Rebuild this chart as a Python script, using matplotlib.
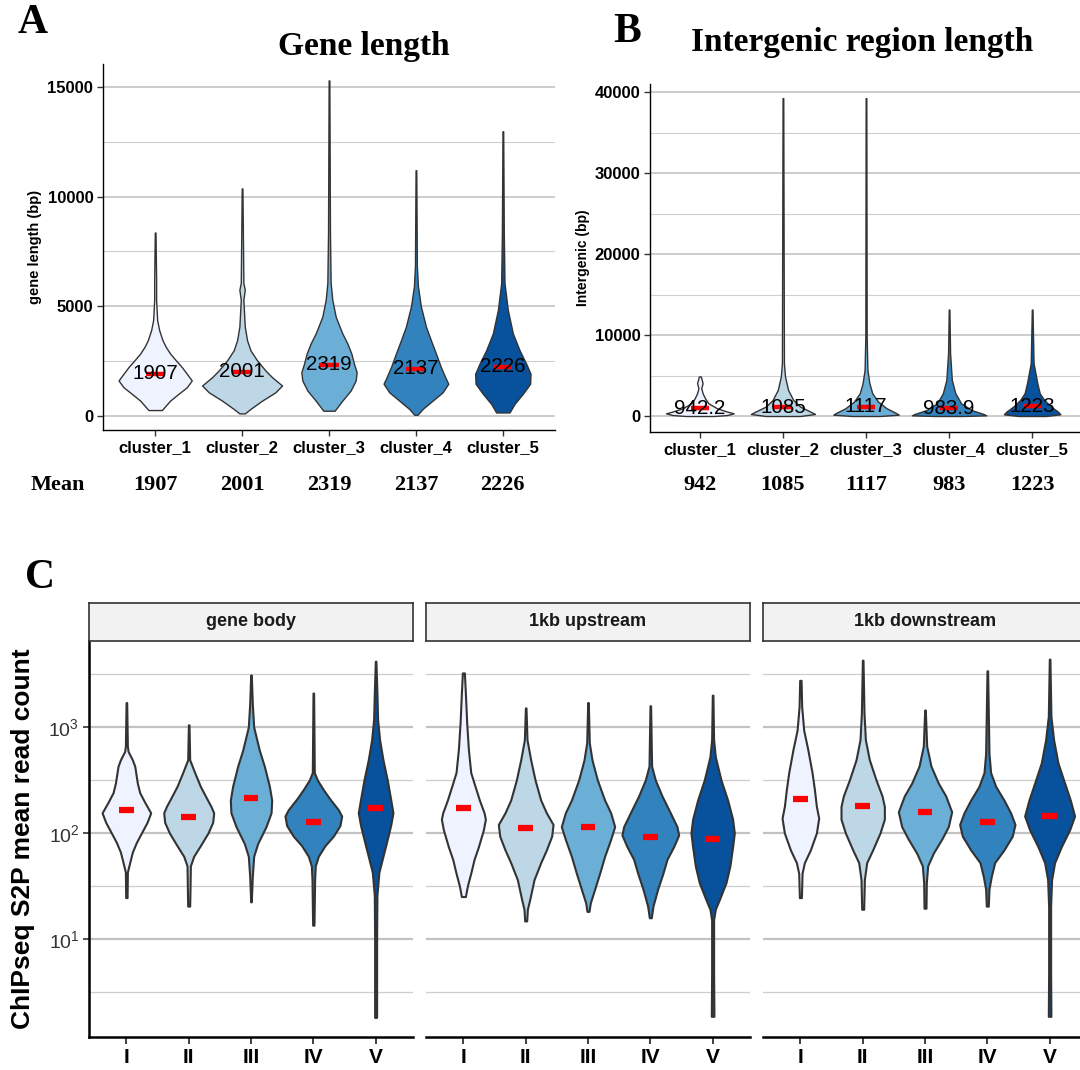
import numpy as np
import matplotlib
matplotlib.use('Agg')
import matplotlib.pyplot as plt
from matplotlib.ticker import FixedLocator, NullFormatter

plt.rcParams['font.family'] = ['Liberation Sans', 'DejaVu Sans']
plt.rcParams['mathtext.fontset'] = 'custom'
plt.rcParams['mathtext.rm'] = 'Liberation Sans'
plt.rcParams['mathtext.it'] = 'Liberation Sans:italic'
plt.rcParams['mathtext.bf'] = 'Liberation Sans:bold'

# ---------------- data ----------------
clusters = ['cluster_1', 'cluster_2', 'cluster_3', 'cluster_4', 'cluster_5']
colors = ['#EFF3FF', '#BDD7E7', '#6BAED6', '#3182BD', '#08519C']

# Panel A: gene length violins (value levels in bp, half-width profile)
geneA_levels = [
    [260, 690, 1000, 1300, 1610, 1920, 2220, 2530, 2840, 3140, 3450, 3910, 4370, 5290, 6210, 8360],
    [107, 310, 690, 1070, 1380, 1760, 2070, 2530, 2990, 3450, 4070, 5290, 5750, 6060, 10370],
    [230, 690, 1150, 1610, 1990, 2380, 2840, 3300, 3760, 4520, 5290, 6060, 8360, 15300],
    [46, 310, 690, 1070, 1460, 1760, 2220, 2840, 3450, 4070, 4990, 5910, 6830, 11200],
    [150, 540, 1000, 1460, 1920, 2380, 2990, 3760, 4830, 6060, 8310, 12980],
]
geneA_density = [
    [0.077, 0.172, 0.268, 0.364, 0.421, 0.364, 0.307, 0.238, 0.172, 0.123, 0.084, 0.046, 0.023, 0.011, 0.011, 0.004],
    [0.031, 0.096, 0.230, 0.383, 0.460, 0.345, 0.268, 0.172, 0.096, 0.057, 0.031, 0.015, 0.031, 0.015, 0.004],
    [0.065, 0.153, 0.249, 0.307, 0.318, 0.287, 0.257, 0.211, 0.153, 0.077, 0.038, 0.019, 0.011, 0.004],
    [0.019, 0.077, 0.192, 0.307, 0.372, 0.337, 0.287, 0.230, 0.172, 0.115, 0.057, 0.023, 0.011, 0.004],
    [0.077, 0.134, 0.230, 0.314, 0.318, 0.268, 0.192, 0.115, 0.057, 0.019, 0.011, 0.004],
]
geneA_means = [1907, 2001, 2319, 2137, 2226]
geneA_row = ['1907', '2001', '2319', '2137', '2226']

# Panel B: intergenic region length
interB_levels = [
    [0, 124, 330, 537, 950, 1570, 2190, 2810, 3430, 4050, 4880],
    [0, 248, 537, 1160, 1980, 3220, 4880, 6530, 39250],
    [0, 165, 413, 950, 1780, 2810, 4050, 5700, 9830, 39250],
    [0, 83, 248, 740, 1570, 2810, 4460, 7770, 13140],
    [0, 207, 537, 1160, 1980, 2810, 4050, 6530, 13140],
]
interB_density = [
    [0.166, 0.332, 0.407, 0.332, 0.207, 0.104, 0.062, 0.033, 0.017, 0.033, 0.012],
    [0.207, 0.386, 0.332, 0.207, 0.124, 0.062, 0.025, 0.012, 0.004],
    [0.166, 0.394, 0.353, 0.249, 0.145, 0.075, 0.041, 0.017, 0.008, 0.004],
    [0.166, 0.448, 0.415, 0.270, 0.145, 0.075, 0.033, 0.012, 0.004],
    [0.166, 0.340, 0.311, 0.228, 0.145, 0.091, 0.062, 0.017, 0.004],
]
interB_means = [942.2, 1085, 1117, 983.9, 1223]
interB_row = ['942', '1085', '1117', '983', '1223']

# Panel C: ChIPseq S2P mean read count (log10 levels)
groups = ['I', 'II', 'III', 'IV', 'V']
facets = ['gene body', '1kb upstream', '1kb downstream']

body_log = [
    [1.39, 1.63, 1.72, 1.82, 1.91, 2.00, 2.10, 2.19, 2.29, 2.38, 2.47, 2.57, 2.63, 2.69, 2.77, 2.82, 3.23],
    [1.31, 1.47, 1.69, 1.78, 1.88, 2.00, 2.10, 2.19, 2.25, 2.32, 2.44, 2.57, 2.65, 2.69, 3.02],
    [1.35, 1.59, 1.78, 1.90, 2.06, 2.19, 2.31, 2.44, 2.63, 2.78, 2.91, 3.00, 3.22, 3.49],
    [1.13, 1.56, 1.69, 1.78, 1.88, 1.97, 2.07, 2.16, 2.22, 2.32, 2.41, 2.50, 2.57, 3.32],
    [0.26, 1.00, 1.41, 1.63, 1.78, 1.94, 2.07, 2.19, 2.32, 2.50, 2.69, 2.88, 3.07, 3.32, 3.62],
]
body_density = [
    [0.011, 0.016, 0.053, 0.096, 0.160, 0.241, 0.332, 0.390, 0.294, 0.214, 0.176, 0.150, 0.134, 0.096, 0.027, 0.016, 0.005],
    [0.016, 0.021, 0.027, 0.080, 0.187, 0.310, 0.385, 0.401, 0.358, 0.294, 0.187, 0.096, 0.043, 0.016, 0.005],
    [0.005, 0.021, 0.043, 0.107, 0.241, 0.322, 0.332, 0.295, 0.214, 0.134, 0.080, 0.043, 0.021, 0.005],
    [0.011, 0.021, 0.032, 0.080, 0.187, 0.321, 0.428, 0.455, 0.401, 0.267, 0.160, 0.064, 0.016, 0.005],
    [0.016, 0.016, 0.021, 0.053, 0.118, 0.187, 0.241, 0.278, 0.241, 0.187, 0.118, 0.064, 0.032, 0.021, 0.005],
]
body_means = [166, 141, 215, 126, 173]

up_log = [
    [1.40, 1.50, 1.62, 1.75, 1.87, 2.03, 2.13, 2.19, 2.31, 2.44, 2.57, 2.79, 3.04, 3.32, 3.51],
    [1.17, 1.28, 1.37, 1.56, 1.72, 1.84, 1.97, 2.08, 2.19, 2.31, 2.50, 2.69, 2.88, 3.18],
    [1.26, 1.34, 1.47, 1.62, 1.78, 1.94, 2.06, 2.19, 2.31, 2.50, 2.69, 2.85, 3.23],
    [1.20, 1.31, 1.47, 1.62, 1.75, 1.87, 1.98, 2.06, 2.19, 2.35, 2.50, 2.63, 3.20],
    [0.27, 0.68, 1.18, 1.28, 1.37, 1.53, 1.69, 1.87, 2.00, 2.13, 2.31, 2.50, 2.72, 2.88, 3.30],
]
up_density = [
    [0.032, 0.064, 0.118, 0.171, 0.241, 0.321, 0.353, 0.332, 0.257, 0.187, 0.118, 0.080, 0.053, 0.032, 0.016],
    [0.016, 0.027, 0.064, 0.134, 0.241, 0.332, 0.417, 0.439, 0.332, 0.241, 0.150, 0.080, 0.021, 0.005],
    [0.016, 0.037, 0.107, 0.187, 0.267, 0.364, 0.428, 0.364, 0.267, 0.150, 0.064, 0.021, 0.005],
    [0.016, 0.043, 0.118, 0.203, 0.267, 0.374, 0.455, 0.428, 0.321, 0.187, 0.080, 0.021, 0.005],
    [0.021, 0.016, 0.016, 0.043, 0.107, 0.214, 0.278, 0.321, 0.348, 0.321, 0.241, 0.134, 0.043, 0.016, 0.005],
]
up_means = [173, 112, 113, 91, 88]

down_log = [
    [1.39, 1.62, 1.72, 1.84, 2.00, 2.14, 2.25, 2.41, 2.57, 2.79, 2.97, 3.19, 3.44],
    [1.28, 1.56, 1.72, 1.84, 2.00, 2.13, 2.25, 2.35, 2.50, 2.69, 2.88, 3.13, 3.63],
    [1.29, 1.53, 1.69, 1.81, 1.94, 2.06, 2.20, 2.35, 2.47, 2.63, 2.82, 3.16],
    [1.31, 1.47, 1.59, 1.72, 1.84, 1.97, 2.08, 2.19, 2.31, 2.44, 2.57, 2.75, 3.53],
    [0.27, 0.68, 1.31, 1.56, 1.72, 1.87, 2.03, 2.16, 2.31, 2.47, 2.66, 2.88, 3.10, 3.64],
]
down_density = [
    [0.016, 0.027, 0.064, 0.160, 0.257, 0.294, 0.257, 0.225, 0.187, 0.118, 0.053, 0.021, 0.011],
    [0.016, 0.027, 0.064, 0.160, 0.278, 0.348, 0.348, 0.310, 0.214, 0.107, 0.043, 0.021, 0.005],
    [0.016, 0.021, 0.043, 0.134, 0.267, 0.374, 0.428, 0.332, 0.214, 0.096, 0.027, 0.005],
    [0.016, 0.027, 0.064, 0.118, 0.267, 0.401, 0.444, 0.374, 0.267, 0.134, 0.053, 0.027, 0.005],
    [0.021, 0.016, 0.016, 0.032, 0.080, 0.187, 0.321, 0.401, 0.332, 0.241, 0.134, 0.064, 0.021, 0.005],
]
down_means = [210, 178, 156, 126, 145]

# ---------------- figure ----------------
W, H = 1080, 1070
fig = plt.figure(figsize=(W / 100, H / 100), dpi=100)
SERIF = ['Liberation Serif', 'DejaVu Serif']


def add_ax(x0, y0, x1, y1):
    return fig.add_axes([x0 / W, 1 - y1 / H, (x1 - x0) / W, (y1 - y0) / H])


def draw_violins(ax, levels, density, means, lw, log=False):
    pos = np.arange(1, len(levels) + 1)
    stats = []
    for lv, d, m in zip(levels, density, means):
        c = np.asarray(lv, float)
        if log:
            c = 10 ** c
        stats.append(dict(coords=c, vals=np.asarray(d, float), mean=m, median=m,
                          min=c.min(), max=c.max()))
    widths = [2 * max(d) for d in density]
    parts = ax.violin(stats, positions=pos, widths=widths, showmeans=False,
                      showextrema=False, showmedians=False)
    for body, col in zip(parts['bodies'], colors):
        body.set_facecolor(col)
        body.set_edgecolor('#333333')
        body.set_alpha(1)
        body.set_linewidth(lw)
        body.set_joinstyle('round')
        body.set_zorder(2)
    return pos


def style_lin(ax, major, minor):
    for s in ['top', 'right']:
        ax.spines[s].set_visible(False)
    for s in ['left', 'bottom']:
        ax.spines[s].set_linewidth(1.0)
        ax.spines[s].set_color('black')
    ax.set_yticks(major, labels=[str(v) for v in major], fontsize=12, fontweight='bold')
    ax.yaxis.set_minor_locator(FixedLocator(minor))
    ax.yaxis.set_minor_formatter(NullFormatter())
    ax.grid(which='major', axis='y', color='#c4c4c4', lw=1.2)
    ax.grid(which='minor', axis='y', color='#cfcfcf', lw=0.8)
    ax.tick_params(which='minor', length=0)
    ax.tick_params(which='major', length=4, width=1, color='#333333', pad=3)
    ax.set_axisbelow(True)


# ---- Panel A ----
axA = add_ax(103, 64, 555, 430)
posA = draw_violins(axA, geneA_levels, geneA_density, geneA_means, lw=1.0)
axA.set_xlim(0.4, 5.6)
axA.set_ylim(-650, 16050)
style_lin(axA, [0, 5000, 10000, 15000], [2500, 7500, 12500])
axA.set_xticks(posA, labels=clusters, fontsize=12, fontweight='bold')
axA.hlines(geneA_means, posA - 0.11, posA + 0.11, colors='red', lw=3.2, zorder=4, capstyle='butt')
for p, m in zip(posA, geneA_means):
    axA.text(p, m, f'{m:.4g}', ha='center', va='center', fontsize=14.8, zorder=5)
for p, t in zip(posA, geneA_row):
    axA.text(p, -0.150, t, transform=axA.get_xaxis_transform(), ha='center', va='center',
             fontsize=16, fontweight='bold', family=SERIF)
fig.text(58 / W, 1 - 485 / H, 'Mean', ha='center', va='center', fontsize=16,
         fontweight='bold', family=SERIF)
fig.text(35 / W, 1 - 247 / H, 'gene length (bp)', rotation=90, ha='center', va='center',
         fontsize=10.5, fontweight='bold')
fig.text(364 / W, 1 - 47 / H, 'Gene length', ha='center', va='center', fontsize=24,
         fontweight='bold', family=SERIF)
fig.text(33 / W, 1 - 23 / H, 'A', ha='center', va='center', fontsize=30,
         fontweight='bold', family=SERIF)

# ---- Panel B ----
axB = add_ax(650, 84, 1082, 432)
posB = draw_violins(axB, interB_levels, interB_density, interB_means, lw=1.0)
axB.set_xlim(0.4, 5.6)
axB.set_ylim(-1975, 40990)
style_lin(axB, [0, 10000, 20000, 30000, 40000], [5000, 15000, 25000, 35000])
axB.set_xticks(posB, labels=clusters, fontsize=12, fontweight='bold')
axB.hlines(interB_means, posB - 0.11, posB + 0.11, colors='red', lw=3.2, zorder=4, capstyle='butt')
for p, m in zip(posB, interB_means):
    axB.text(p, m, f'{m:.4g}', ha='center', va='center', fontsize=14.8, zorder=5)
for p, t in zip(posB, interB_row):
    axB.text(p, -0.152, t, transform=axB.get_xaxis_transform(), ha='center', va='center',
             fontsize=16, fontweight='bold', family=SERIF)
fig.text(583 / W, 1 - 258 / H, 'Intergenic (bp)', rotation=90, ha='center', va='center',
         fontsize=10, fontweight='bold')
fig.text(862 / W, 1 - 42 / H, 'Intergenic region length', ha='center', va='center',
         fontsize=24, fontweight='bold', family=SERIF)
fig.text(627 / W, 1 - 32 / H, 'B', ha='center', va='center', fontsize=30,
         fontweight='bold', family=SERIF)

# ---- Panel C ----
c_levels = [body_log, up_log, down_log]
c_density = [body_density, up_density, down_density]
c_means = [body_means, up_means, down_means]
panel_x = [(89, 413), (426, 750), (763, 1087)]
for k, (x0, x1) in enumerate(panel_x):
    ax = add_ax(x0, 641, x1, 1037)
    ax.set_yscale('log')
    pos = draw_violins(ax, c_levels[k], c_density[k], c_means[k], lw=1.5, log=True)
    ax.set_xlim(0.4, 5.6)
    ax.set_ylim(10 ** 0.075, 10 ** 3.811)
    ax.hlines(c_means[k], pos - 0.12, pos + 0.12, colors='red', lw=4.5, zorder=4, capstyle='butt')
    ax.yaxis.set_major_locator(FixedLocator([10, 100, 1000]))
    ax.yaxis.set_minor_locator(FixedLocator([10 ** 0.5, 10 ** 1.5, 10 ** 2.5, 10 ** 3.5]))
    ax.yaxis.set_minor_formatter(NullFormatter())
    ax.grid(which='major', axis='y', color='#c2c2c2', lw=1.6)
    ax.grid(which='minor', axis='y', color='#cdcdcd', lw=0.9)
    ax.set_axisbelow(True)
    ax.tick_params(which='minor', length=0)
    for s in ['top', 'right']:
        ax.spines[s].set_visible(False)
    ax.spines['bottom'].set_linewidth(1.8)
    ax.spines['bottom'].set_color('black')
    ax.set_xticks(pos, labels=groups, fontsize=15, fontweight='bold')
    ax.tick_params(axis='x', length=5, width=1.3, color='#333333', pad=3)
    if k == 0:
        ax.set_yticks([10, 100, 1000], labels=[r'$10^{1}$', r'$10^{2}$', r'$10^{3}$'],
                      fontsize=14, color='#333333')
        ax.spines['left'].set_linewidth(1.8)
        ax.spines['left'].set_color('black')
        ax.tick_params(axis='y', which='major', length=4, width=1.2, color='#333333', pad=3)
    else:
        ax.spines['left'].set_visible(False)
        ax.tick_params(axis='y', which='both', length=0, labelleft=False)
    sx = add_ax(x0, 603, x1, 641)
    sx.set_facecolor('#f2f2f2')
    sx.set_xticks([])
    sx.set_yticks([])
    for s in sx.spines.values():
        s.set_linewidth(1.2)
        s.set_color('#333333')
    sx.text(0.5, 0.5, facets[k], transform=sx.transAxes, ha='center', va='center',
            fontsize=13, fontweight='bold', color='#1a1a1a')

fig.text(23 / W, 1 - 839 / H, 'ChIPseq S2P mean read count', rotation=90, ha='center',
         va='center', fontsize=19, fontweight='bold')
fig.text(40 / W, 1 - 578 / H, 'C', ha='center', va='center', fontsize=30,
         fontweight='bold', family=SERIF)

fig.savefig('out.png', dpi=100)
